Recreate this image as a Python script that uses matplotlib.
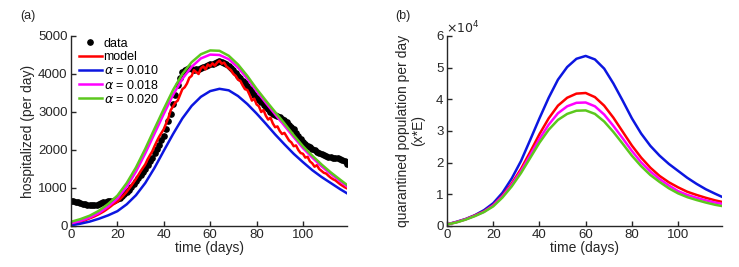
import numpy as np
import matplotlib.pyplot as plt

plt.rcParams['font.family'] = ['Liberation Sans', 'DejaVu Sans']

# ---- panel (a): hospitalized per day ----
days = np.arange(120)

data_hosp = [
    660, 650, 640, 620, 600, 590, 575, 560, 550, 545,
    550, 560, 575, 600, 620, 640, 650, 655, 660, 680,
    700, 740, 790, 840, 900, 960, 1030, 1100, 1180, 1250,
    1330, 1420, 1500, 1600, 1700, 1800, 1920, 2030, 2140, 2250,
    2380, 2550, 2750, 2950, 3200, 3450, 3700, 3900, 4050, 4100,
    4120, 4150, 4130, 4100, 4120, 4140, 4160, 4180, 4200, 4230,
    4250, 4270, 4290, 4310, 4340, 4320, 4290, 4250, 4200, 4150,
    4100, 4030, 3960, 3890, 3820, 3750, 3680, 3600, 3520, 3450,
    3380, 3310, 3250, 3190, 3130, 3070, 3010, 2960, 2920, 2890,
    2860, 2820, 2780, 2730, 2670, 2610, 2540, 2460, 2380, 2300,
    2220, 2160, 2110, 2070, 2030, 1990, 1950, 1920, 1890, 1860,
    1840, 1820, 1810, 1800, 1790, 1780, 1760, 1740, 1710, 1640,
]

model_hosp = [
    50, 60, 75, 90, 110, 130, 150, 175, 200, 225,
    250, 280, 310, 345, 380, 420, 465, 510, 560, 600,
    640, 700, 760, 830, 900, 980, 1060, 1150, 1240, 1340,
    1440, 1530, 1620, 1750, 1860, 1960, 2100, 2230, 2350, 2450,
    2550, 2700, 2850, 3050, 3150, 3250, 3300, 3450, 3600, 3650,
    3750, 3900, 3950, 4100, 4050, 4000, 4150, 4200, 4120, 4250,
    4200, 4280, 4220, 4300, 4350, 4270, 4300, 4200, 4150, 4100,
    4000, 3950, 3850, 3820, 3700, 3600, 3580, 3450, 3300, 3350,
    3200, 3150, 3000, 3050, 2900, 2800, 2850, 2700, 2600, 2620,
    2500, 2420, 2450, 2350, 2250, 2200, 2100, 2120, 2000, 1920,
    1900, 1800, 1820, 1700, 1650, 1560, 1600, 1500, 1450, 1400,
    1380, 1320, 1270, 1230, 1200, 1150, 1100, 1060, 1020, 990,
]

days4 = [0, 4, 8, 12, 16, 20, 24, 28, 32, 36, 40, 44, 48, 52, 56, 60,
         64, 68, 72, 76, 80, 84, 88, 92, 96, 100, 104, 108, 112, 116, 119]

hosp_a010 = [20, 60, 115, 190, 280, 390, 570, 810, 1130, 1530, 1980, 2420, 2830,
             3160, 3400, 3550, 3610, 3570, 3420, 3210, 2960, 2690, 2410, 2150,
             1900, 1680, 1470, 1290, 1130, 970, 860]
hosp_a018 = [70, 130, 220, 340, 510, 720, 1030, 1430, 1910, 2430, 2950, 3450, 3870,
             4190, 4410, 4510, 4500, 4390, 4170, 3880, 3550, 3240, 2940, 2640,
             2340, 2050, 1800, 1570, 1370, 1180, 1040]
hosp_a020 = [110, 180, 270, 400, 580, 800, 1130, 1540, 2030, 2560, 3080, 3580, 4000,
             4310, 4520, 4620, 4610, 4480, 4250, 3950, 3610, 3300, 3000, 2700,
             2390, 2100, 1850, 1620, 1410, 1220, 1080]

# ---- panel (b): quarantined population per day (x 1e4) ----
quar_model = [0.05, 0.12, 0.21, 0.33, 0.46, 0.66, 0.96, 1.34, 1.80, 2.34, 2.90,
              3.40, 3.80, 4.05, 4.18, 4.20, 4.07, 3.80, 3.42, 2.98, 2.54, 2.16,
              1.84, 1.58, 1.38, 1.22, 1.08, 0.98, 0.89, 0.81, 0.76]
quar_a010 = [0.05, 0.13, 0.22, 0.34, 0.50, 0.72, 1.05, 1.50, 2.05, 2.72, 3.40,
             4.05, 4.62, 5.02, 5.28, 5.37, 5.26, 4.97, 4.50, 3.96, 3.40, 2.92,
             2.53, 2.22, 1.96, 1.74, 1.52, 1.33, 1.16, 1.02, 0.92]
quar_a018 = [0.05, 0.12, 0.21, 0.32, 0.45, 0.65, 0.94, 1.30, 1.74, 2.24, 2.75,
             3.20, 3.56, 3.78, 3.89, 3.90, 3.78, 3.52, 3.16, 2.77, 2.37, 2.01,
             1.72, 1.48, 1.28, 1.10, 0.98, 0.89, 0.81, 0.74, 0.70]
quar_a020 = [0.05, 0.11, 0.20, 0.31, 0.44, 0.62, 0.90, 1.25, 1.67, 2.15, 2.63,
             3.04, 3.35, 3.54, 3.64, 3.65, 3.54, 3.30, 2.97, 2.60, 2.22, 1.89,
             1.61, 1.39, 1.19, 1.03, 0.91, 0.82, 0.74, 0.67, 0.63]

blue = '#0c16e0'
green = '#5cc81e'
dark = '#262626'
lw = 1.8


def style_axes(ax):
    for s in ['top', 'right']:
        ax.spines[s].set_visible(False)
    for s in ['left', 'bottom']:
        ax.spines[s].set_color(dark)
        ax.spines[s].set_linewidth(1.0)
    ax.tick_params(direction='in', length=3.5, width=1.0, colors=dark,
                   labelsize=9.5, labelcolor=dark, pad=2.5)
    ax.set_xlim(0, 119)
    ax.set_xticks([0, 20, 40, 60, 80, 100])
    ax.set_xlabel('time (days)', fontsize=10, color=dark, labelpad=0)


fig = plt.figure(figsize=(7.39, 2.67), dpi=100)
ax1 = fig.add_axes([0.0961, 0.1536, 0.3735, 0.7116])
ax2 = fig.add_axes([0.6049, 0.1536, 0.3721, 0.7116])

ax1.plot(days, data_hosp, 'o', color='black', ms=3.8, label='data')
ax1.plot(days, model_hosp, '-', color='red', lw=lw, label='model')
ax1.plot(days4, hosp_a010, '-', color=blue, lw=lw, label=r'$\alpha$ = 0.010')
ax1.plot(days4, hosp_a018, '-', color='magenta', lw=lw, label=r'$\alpha$ = 0.018')
ax1.plot(days4, hosp_a020, '-', color=green, lw=lw, label=r'$\alpha$ = 0.020')
style_axes(ax1)
ax1.set_ylim(0, 5000)
ax1.set_yticks([0, 1000, 2000, 3000, 4000, 5000])
ax1.set_ylabel('hospitalized (per day)', fontsize=10, color=dark, labelpad=2)
ax1.legend(loc='upper left', frameon=False, fontsize=9, handlelength=1.9,
           handletextpad=0.1, labelspacing=0.1, borderaxespad=0.2,
           bbox_to_anchor=(0.0, 1.03))

q = lambda v: np.array(v) * 1e4
ax2.plot(days4, q(quar_a010), '-', color=blue, lw=lw)
ax2.plot(days4, q(quar_model), '-', color='red', lw=lw)
ax2.plot(days4, q(quar_a018), '-', color='magenta', lw=lw)
ax2.plot(days4, q(quar_a020), '-', color=green, lw=lw)
style_axes(ax2)
ax2.set_ylim(0, 6e4)
ax2.set_yticks(np.arange(0, 7) * 1e4)
ax2.set_yticklabels([str(i) for i in range(7)])
ax2.set_ylabel('quarantined population per day\n(x*E)', fontsize=10,
               color=dark, labelpad=8, linespacing=1.1)
ax2.text(-0.005, 1.0, r'$\times10^4$', transform=ax2.transAxes, fontsize=9,
         color=dark, ha='left', va='bottom')

fig.text(0.028, 0.93, '(a)', fontsize=9, color=dark)
fig.text(0.535, 0.93, '(b)', fontsize=9, color=dark)

fig.savefig('out.png', dpi=100)
